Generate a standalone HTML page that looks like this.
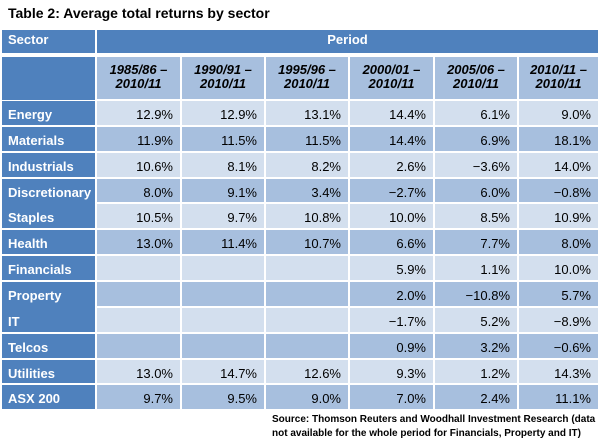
<!DOCTYPE html>
<html><head><style>
body{margin:0;width:600px;height:441px;background:#fff;font-family:"Liberation Sans",Arial,sans-serif;position:relative;overflow:hidden}
div{position:absolute;box-sizing:border-box}
.t{left:8px;top:5px;font-weight:bold;font-size:14px;color:#000}
.s{background:#4f81bd;color:#fff;font-weight:bold;font-size:13px;padding:6px 0 0 6px}
.c{font-size:13px;text-align:right;padding:6px 7px 0 0;color:#000}
.L{background:#d3dfee}.D{background:#a7bfde}
.h{background:#a7bfde;font-style:italic;font-weight:bold;font-size:13px;text-align:center;padding-top:6px;line-height:14px}
.src{left:272px;top:413px;font-size:10px;font-weight:bold;line-height:14px;white-space:nowrap}
</style></head><body>
<div class="t">Table 2: Average total returns by sector</div>
<div class="s" style="left:2px;top:30px;width:93px;height:23px;padding-top:2px">Sector</div>
<div class="s" style="left:97px;top:30px;width:501px;height:23px;text-align:center;padding:2px 0 0 0">Period</div>
<div class="s" style="left:2px;top:57px;width:93px;height:43px"></div>
<div id="g"></div>
<div class="src">Source: Thomson Reuters and Woodhall Investment Research (data<br>not available for the whole period for Financials, Property and IT)</div>
<script>
var cols=[[97,83],[182,82],[266,82],[350,83],[435,82],[519,79]];
var hd=["1985/86 –<br>2010/11","1990/91 –<br>2010/11","1995/96 –<br>2010/11","2000/01 –<br>2010/11","2005/06 –<br>2010/11","2010/11 –<br>2010/11"];
var rows=[["Energy","12.9%","12.9%","13.1%","14.4%","6.1%","9.0%"],
["Materials","11.9%","11.5%","11.5%","14.4%","6.9%","18.1%"],
["Industrials","10.6%","8.1%","8.2%","2.6%","−3.6%","14.0%"],
["Discretionary","8.0%","9.1%","3.4%","−2.7%","6.0%","−0.8%"],
["Staples","10.5%","9.7%","10.8%","10.0%","8.5%","10.9%"],
["Health","13.0%","11.4%","10.7%","6.6%","7.7%","8.0%"],
["Financials","","","","5.9%","1.1%","10.0%"],
["Property","","","","2.0%","−10.8%","5.7%"],
["IT","","","","−1.7%","5.2%","−8.9%"],
["Telcos","","","","0.9%","3.2%","−0.6%"],
["Utilities","13.0%","14.7%","12.6%","9.3%","1.2%","14.3%"],
["ASX 200","9.7%","9.5%","9.0%","7.0%","2.4%","11.1%"]];
var h="";
cols.forEach(function(c,i){h+='<div class="h" style="left:'+c[0]+'px;top:57px;width:'+c[1]+'px;height:42px">'+hd[i]+'</div>';});
var nogap={4:1,8:1};
rows.forEach(function(r,i){
 var top=Math.round(101+i*25.85),bot=Math.round(101+(i+1)*25.85);
 var st=nogap[i]?top-2:top;
 h+='<div class="s" style="left:2px;top:'+st+'px;width:93px;height:'+(bot-2-st)+'px;padding-top:'+(nogap[i]?8:6)+'px">'+r[0]+'</div>';
 cols.forEach(function(c,j){
  h+='<div class="c '+(i%2?'D':'L')+'" style="left:'+c[0]+'px;top:'+top+'px;width:'+c[1]+'px;height:'+(bot-top-2)+'px">'+r[j+1]+'</div>';
 });
});
document.getElementById('g').outerHTML=h;
</script>
</body></html>
